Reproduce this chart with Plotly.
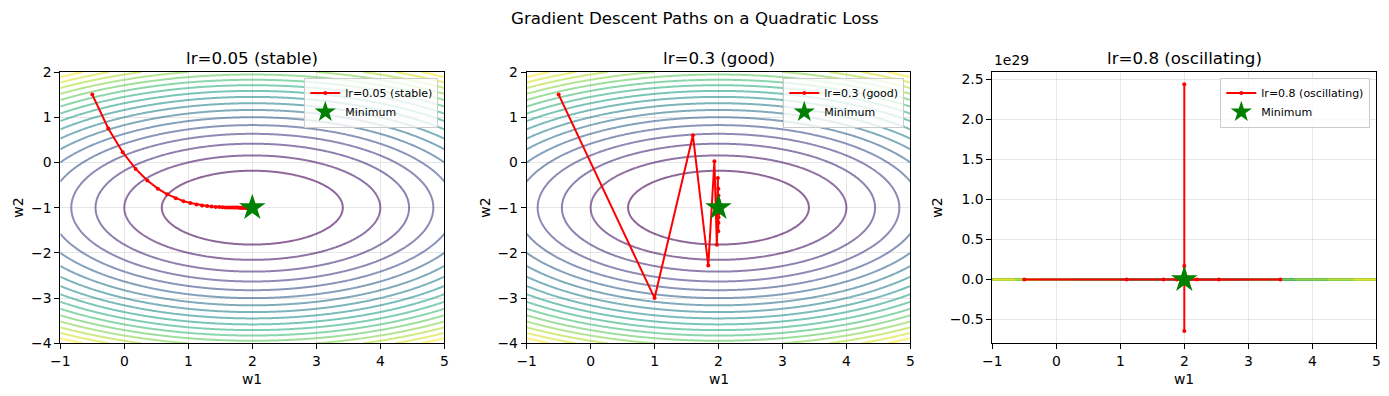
import numpy as np
import plotly.graph_objects as go
from plotly.colors import sample_colorscale

# ---------------- data ----------------
learning_rates = ["lr=0.05 (stable)", "lr=0.3 (good)", "lr=0.8 (oscillating)"]
minimum_w1 = [2.0]
minimum_w2 = [-1.0]

# loss surface: L = (w1-2)^2 + 3*(w2+1)^2
coef_w1 = 1.0
coef_w2 = 3.0
grid_w1 = np.linspace(-1, 5, 300)
grid_w2 = np.linspace(-4, 2, 300)
level_values = list(range(2, 35, 2))

path_005_w1 = [-0.5, -0.25, -0.025, 0.1775, 0.3598, 0.5238, 0.6715, 0.8043, 0.9238, 1.0315,
               1.1283, 1.2155, 1.294, 1.3645, 1.428, 1.4853, 1.5368, 1.583, 1.6248, 1.6623,
               1.696, 1.7265, 1.7538, 1.7785, 1.8005, 1.8205, 1.8385, 1.8548, 1.8693, 1.8823,
               1.894, 1.9046, 1.9142, 1.9227, 1.9305, 1.9374, 1.9437, 1.9493, 1.9544, 1.9589,
               1.9631, 1.9667, 1.9701, 1.9731, 1.9758, 1.9782, 1.9804, 1.9823, 1.9841, 1.9857,
               1.9871]
path_005_w2 = [1.5, 0.75, 0.225, -0.1425, -0.3998, -0.5798, -0.706, -0.794, -0.856, -0.899,
               -0.9295, -0.9505, -0.9655, -0.9758, -0.983, -0.988, -0.9917, -0.9942, -0.9959, -0.9972,
               -0.998, -0.9986, -0.999, -0.9993, -0.9995, -0.9997, -0.9998, -0.9998, -0.9999, -0.9999,
               -0.9999, -1.0, -1.0, -1.0, -1.0, -1.0, -1.0, -1.0, -1.0, -1.0,
               -1.0, -1.0, -1.0, -1.0, -1.0, -1.0, -1.0, -1.0, -1.0, -1.0,
               -1.0]

path_03_w1 = [-0.5, 1.0, 1.6, 1.84, 1.936, 1.9744, 1.9898, 1.9959, 1.9984, 1.9993,
              1.9997, 1.9999, 2.0, 2.0, 2.0, 2.0, 2.0, 2.0, 2.0, 2.0,
              2.0, 2.0, 2.0, 2.0, 2.0, 2.0, 2.0, 2.0, 2.0, 2.0,
              2.0, 2.0, 2.0, 2.0, 2.0, 2.0, 2.0, 2.0, 2.0, 2.0,
              2.0, 2.0, 2.0, 2.0, 2.0, 2.0, 2.0, 2.0, 2.0, 2.0,
              2.0]
path_03_w2 = [1.5, -3.0, 0.6, -2.28, 0.024, -1.8192, -0.3446, -1.5243, -0.5806, -1.3355,
              -0.7316, -1.2147, -0.8282, -1.1374, -0.89, -1.088, -0.9296, -1.0563, -0.955, -1.036,
              -0.9712, -1.0231, -0.9816, -1.0148, -0.9882, -1.0094, -0.9924, -1.006, -0.9952, -1.0039,
              -0.9969, -1.0025, -0.998, -1.0016, -0.9987, -1.001, -0.9992, -1.0006, -0.9995, -1.0004,
              -0.9997, -1.0003, -0.9998, -1.0002, -0.9999, -1.0001, -0.9999, -1.0001, -0.9999, -1.0,
              -1.0]

path_08_w1 = [-0.5, 3.5, 1.1, 2.54, 1.676, 2.1944, 1.8834, 2.07, 1.958, 2.0252,
              1.9849, 2.0091, 1.9946, 2.0033, 1.998, 2.0012, 1.9993, 2.0004, 1.9997, 2.0002,
              1.9999, 2.0, 2.0, 2.0, 2.0, 2.0, 2.0, 2.0, 2.0, 2.0,
              2.0, 2.0, 2.0, 2.0, 2.0, 2.0, 2.0, 2.0, 2.0, 2.0,
              2.0, 2.0, 2.0, 2.0, 2.0, 2.0, 2.0, 2.0, 2.0, 2.0,
              2.0]
path_08_w2 = [1.5, -10.5, 35.1, -138.18, 520.28, -1981.9, 7526.0, -28603.0, 108692.0, -413033.0,
              1.5695e6, -5.9643e6, 2.2664e7, -8.6125e7, 3.2728e8, -1.2437e9, 4.7260e9, -1.7959e10, 6.8243e10, -2.5933e11,
              9.8543e11, -3.7445e12, 1.4230e13, -5.4073e13, 2.0547e14, -7.8080e14, 2.9670e15, -1.1275e16, 4.2845e16, -1.6281e17,
              6.1868e17, -2.3510e18, 8.9335e18, -3.3948e19, 1.2900e20, -4.9020e20, 1.8628e21, -7.0785e21, 2.6898e22, -1.0221e23,
              3.8840e23, -1.4760e24, 5.6085e24, -2.1313e25, 8.0988e25, -3.0775e26, 1.1695e27, -4.4440e27, 1.6888e28, -6.4173e28,
              2.4386e29]

paths = [(path_005_w1, path_005_w2), (path_03_w1, path_03_w2), (path_08_w1, path_08_w2)]

# tick labels for the scaled third panel (offset 1e29)
p3_tick_values = [-0.5, 0.0, 0.5, 1.0, 1.5, 2.0, 2.5]
p3_tick_labels = ["\u22120.5", "0.0", "0.5", "1.0", "1.5", "2.0", "2.5"]
p3_scale = 1e29

# ---------------- layout helpers ----------------
W, H = 1389, 396
FONT = "DejaVu Sans"
CONTOUR_OPACITY = 0.6
CONTOUR_WIDTH = 2.0


def px_x(p):
    return p / W


def px_y(p):
    return 1 - p / H


panel_left = [60.3, 526.7, 992.3]
panel_right = [444.3, 910.3, 1376.3]
panel_top, panel_bottom = 72.0, 343.3

WW1, WW2 = np.meshgrid(grid_w1, grid_w2)
loss = coef_w1 * (WW1 - 2) ** 2 + coef_w2 * (WW2 + 1) ** 2
lvl_lo, lvl_hi = min(level_values), max(level_values)

fig = go.Figure()

for i in range(3):
    ax = "" if i == 0 else str(i + 1)
    xref, yref = "x" + ax, "y" + ax
    # panel 3: path and minimum drawn on an overlay axis so they sit above the band
    path_yref = yref if i < 2 else "y4"
    leg = "legend" if i == 0 else "legend" + str(i + 1)
    if i < 2:
        fig.add_trace(go.Contour(
            x=grid_w1, y=grid_w2, z=loss, xaxis=xref, yaxis=yref,
            contours=dict(coloring="lines", showlabels=False,
                          start=lvl_lo, end=lvl_hi, size=2),
            colorscale="Viridis", zmin=lvl_lo, zmax=lvl_hi, showscale=False,
            line=dict(width=CONTOUR_WIDTH), opacity=CONTOUR_OPACITY,
            hoverinfo="skip", showlegend=False,
        ))
    else:
        # on the huge w2 scale the contour set collapses onto one horizontal band;
        # draw each level's w1-extent within the grid at that band
        x_lo, x_hi = grid_w1[0], grid_w1[-1]
        max_dev_w2 = max(abs(grid_w2[0] + 1), abs(grid_w2[-1] + 1))
        for L in level_values:
            col = sample_colorscale("Viridis", [(L - lvl_lo) / (lvl_hi - lvl_lo)])[0]
            inner = max(L - coef_w2 * max_dev_w2 ** 2, 0.0) / coef_w1
            outer = L / coef_w1
            segs = []
            for sgn in (-1, 1):
                a, b = 2 + sgn * np.sqrt(inner), 2 + sgn * np.sqrt(outer)
                lo_, hi_ = sorted([a, b])
                lo_, hi_ = max(lo_, x_lo), min(hi_, x_hi)
                if hi_ > lo_:
                    segs.append((lo_, hi_))
            xs, ys = [], []
            for lo_, hi_ in segs:
                xs += [lo_, hi_, None]
                ys += [0.0, 0.0, None]
            if xs:
                fig.add_trace(go.Scatter(
                    x=xs, y=ys, xaxis=xref, yaxis=yref, mode="lines",
                    line=dict(color=col, width=2), opacity=CONTOUR_OPACITY,
                    hoverinfo="skip", showlegend=False,
                ))
    pw1, pw2 = paths[i]
    fig.add_trace(go.Scatter(
        x=pw1, y=pw2, xaxis=xref, yaxis=path_yref, mode="lines+markers",
        line=dict(color="red", width=2), marker=dict(color="red", size=4),
        name=learning_rates[i], legend=leg,
    ))
    fig.add_trace(go.Scatter(
        x=minimum_w1, y=minimum_w2, xaxis=xref, yaxis=path_yref, mode="markers",
        marker=dict(color="green", size=20, symbol="star", line=dict(width=0)),
        name="Minimum", legend=leg,
    ))

axis_common = dict(
    showline=True, mirror=True, linecolor="black", linewidth=1,
    ticks="outside", ticklen=5, tickwidth=1, tickcolor="black",
    showgrid=True, gridcolor="rgba(176,176,176,0.3)", gridwidth=1,
    zeroline=False, tickfont=dict(family=FONT, size=13.9, color="black"),
    automargin=False,
)

layout = dict(
    width=W, height=H, autosize=False,
    margin=dict(l=0, r=0, t=0, b=0, pad=0, autoexpand=False),
    plot_bgcolor="white", paper_bgcolor="white",
    font=dict(family=FONT, color="black"),
)

p3_lo = min(path_08_w2)
p3_hi = max(path_08_w2)
p3_pad = 0.05 * (p3_hi - p3_lo)
p3_range = [p3_lo - p3_pad, p3_hi + p3_pad]

for i in range(3):
    ax = "" if i == 0 else str(i + 1)
    xa = dict(axis_common, domain=[px_x(panel_left[i]), px_x(panel_right[i])],
              range=[-1, 5], tickmode="linear", tick0=-1, dtick=1,
              anchor="y" + ax)
    if i < 2:
        ya = dict(axis_common, domain=[px_y(panel_bottom), px_y(panel_top)],
                  range=[-4, 2], tickmode="linear", tick0=-4, dtick=1,
                  anchor="x" + ax)
    else:
        ya = dict(axis_common, domain=[px_y(panel_bottom), px_y(panel_top)],
                  range=p3_range, tickmode="array",
                  tickvals=[v * p3_scale for v in p3_tick_values],
                  ticktext=p3_tick_labels, anchor="x" + ax)
    layout["xaxis" + ax] = xa
    layout["yaxis" + ax] = ya
    leg = "legend" if i == 0 else "legend" + str(i + 1)
    layout[leg] = dict(
        x=px_x(panel_right[i] - 6), xanchor="right",
        y=px_y(panel_top + 5.5), yanchor="top",
        bgcolor="rgba(255,255,255,0.8)", bordercolor="#cccccc", borderwidth=1,
        font=dict(family=FONT, size=11, color="black"),
        itemsizing="trace", tracegroupgap=0,
    )

layout["yaxis4"] = dict(
    overlaying="y3", anchor="x3", range=p3_range,
    domain=[px_y(panel_bottom), px_y(panel_top)],
    showgrid=False, showline=False, zeroline=False, showticklabels=False,
    ticks="", automargin=False,
)

fig.update_layout(**layout)

annotations = []
annotations.append(dict(
    text="Gradient Descent Paths on a Quadratic Loss", x=0.5, y=px_y(18),
    xref="paper", yref="paper", showarrow=False, xanchor="center", yanchor="middle",
    font=dict(family=FONT, size=16.7, color="black")))
for i in range(3):
    cx = (panel_left[i] + panel_right[i]) / 2
    annotations.append(dict(
        text=learning_rates[i], x=px_x(cx), y=px_y(58),
        xref="paper", yref="paper", showarrow=False, xanchor="center", yanchor="middle",
        font=dict(family=FONT, size=16.7, color="black")))
    annotations.append(dict(
        text="w1", x=px_x(cx), y=px_y(379),
        xref="paper", yref="paper", showarrow=False, xanchor="center", yanchor="middle",
        font=dict(family=FONT, size=13.9, color="black")))
    ylab_x = [18, 485, 937][i]
    annotations.append(dict(
        text="w2", x=px_x(ylab_x), y=px_y((panel_top + panel_bottom) / 2), textangle=-90,
        xref="paper", yref="paper", showarrow=False, xanchor="center", yanchor="middle",
        font=dict(family=FONT, size=13.9, color="black")))
annotations.append(dict(
    text="1e29", x=px_x(panel_left[2]), y=px_y(panel_top - 2),
    xref="paper", yref="paper", showarrow=False, xanchor="left", yanchor="bottom",
    font=dict(family=FONT, size=13.9, color="black")))
fig.update_layout(annotations=annotations)

fig.write_html(
    "out.html",
    config={"displayModeBar": False},
    post_script="document.body.style.margin='0px';document.body.style.padding='0px';",
)
